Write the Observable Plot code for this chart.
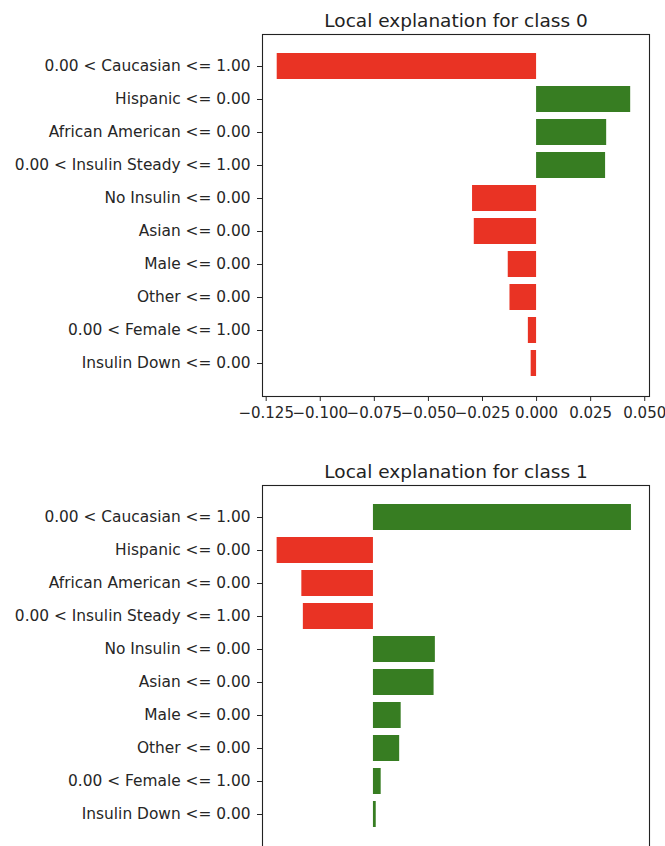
<!DOCTYPE html>
<html><head><meta charset="utf-8">
<script src="https://cdn.jsdelivr.net/npm/d3@7"></script>
<script src="https://cdn.jsdelivr.net/npm/@observablehq/plot@0.6"></script>
<style>
html,body{margin:0;padding:0;background:#fff;overflow:hidden;width:665px;height:846px}
#c0,#c1{position:absolute;left:0}
#c0{top:0}
#c1{top:430px}
</style></head><body>
<div id="c0"></div><div id="c1"></div>
<script>
const features = [
  "0.00 < Caucasian <= 1.00",
  "Hispanic <= 0.00",
  "African American <= 0.00",
  "0.00 < Insulin Steady <= 1.00",
  "No Insulin <= 0.00",
  "Asian <= 0.00",
  "Male <= 0.00",
  "Other <= 0.00",
  "0.00 < Female <= 1.00",
  "Insulin Down <= 0.00"
];
const class0Values = [-0.1199, 0.0435, 0.0324, 0.0319, -0.0296, -0.0288, -0.0131, -0.0123, -0.0038, -0.0025];
const class1Values = [0.1200, -0.0448, -0.0333, -0.0326, 0.0288, 0.0282, 0.0129, 0.0122, 0.0036, 0.0013];
const titles = ["Local explanation for class 0", "Local explanation for class 1"];
const xTicks = [-0.125, -0.100, -0.075, -0.050, -0.025, 0.000, 0.025, 0.050];

const RED = "#e93324";
const GREEN = "#377d22";

function chart(values, title, cfg) {
  const data = features.map((f, i) => ({feature: f, value: values[i], sign: values[i] > 0 ? "pos" : "neg"}));
  const marks = [
    Plot.barX(data, {x: "value", y: "feature", fill: "sign"}),
    Plot.frame({stroke: "#222", strokeWidth: 1.1}),
    Plot.axisY({tickSize: 5, tickPadding: 7, label: null}),
    Plot.text([title], {frameAnchor: "top", dy: cfg.titleDy, fontSize: 18.5, textAnchor: "middle", lineAnchor: "middle", fill: "#222"})
  ];
  if (cfg.showX) {
    marks.push(Plot.axisX({ticks: xTicks, tickFormat: d3.format(".3f"), tickSize: 5, tickPadding: 6, label: null, fontSize: 15}));
  }
  return Plot.plot({
    width: 665,
    height: cfg.height,
    marginLeft: 262,
    marginRight: 16,
    marginTop: cfg.marginTop,
    marginBottom: cfg.marginBottom,
    style: {fontFamily: "DejaVu Sans", fontSize: "15.4px", color: "#262626", background: "#fff", overflow: "visible"},
    x: {domain: cfg.xDomain, axis: null},
    y: {domain: features, paddingInner: 0.2, paddingOuter: 0.487, axis: null},
    color: {domain: ["neg", "pos"], range: [RED, GREEN]},
    marks
  });
}

document.getElementById("c0").append(chart(class0Values, titles[0], {
  height: 430, marginTop: 34, marginBottom: 34, xDomain: [-0.1267, 0.0522], titleDy: -13.9, showX: true
}));
document.getElementById("c1").append(chart(class1Values, titles[1], {
  height: 417, marginTop: 55, marginBottom: 0, xDomain: [-0.0516, 0.1284], titleDy: -13.2, showX: false
}));
</script>
</body></html>
